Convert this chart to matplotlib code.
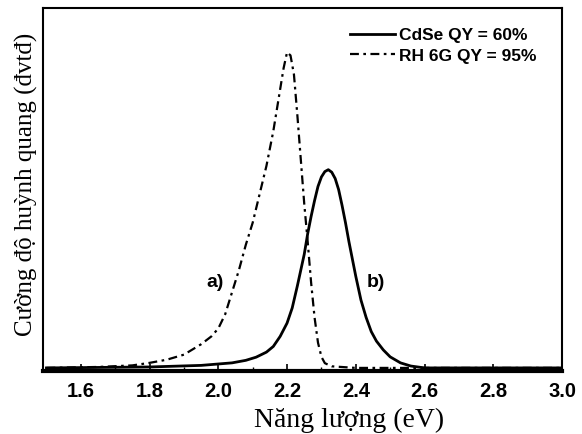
import matplotlib
matplotlib.use("Agg")
import matplotlib.pyplot as plt

# du lieu doc tu hinh (nang luong eV, cuong do chuan hoa)
rh_x = [1.50, 1.65, 1.75, 1.80, 1.85, 1.90, 1.95, 1.98, 2.00, 2.02, 2.04,
        2.06, 2.08, 2.10, 2.12, 2.14, 2.16, 2.175, 2.19, 2.20, 2.21, 2.22,
        2.23, 2.24, 2.25, 2.26, 2.27, 2.28, 2.29, 2.30, 2.31, 2.33, 2.40,
        2.60, 3.00]
rh_y = [0.0, 0.003, 0.008, 0.016, 0.026, 0.042, 0.075, 0.10, 0.125, 0.17,
        0.24, 0.31, 0.39, 0.46, 0.55, 0.64, 0.75, 0.85, 0.95, 1.0, 0.99, 0.93,
        0.80, 0.66, 0.52, 0.40, 0.27, 0.16, 0.08, 0.035, 0.015, 0.005, 0.0,
        0.0, 0.0]

cdse_x = [1.50, 1.80, 1.95, 2.04, 2.08, 2.11, 2.14, 2.16, 2.18, 2.20, 2.215,
          2.23, 2.24, 2.25, 2.26, 2.27, 2.28, 2.29, 2.30, 2.31, 2.32, 2.33,
          2.34, 2.35, 2.36, 2.37, 2.38, 2.39, 2.40, 2.415, 2.43, 2.445, 2.46,
          2.48, 2.50, 2.53, 2.56, 2.60, 3.00]
cdse_y = [0.0, 0.003, 0.008, 0.016, 0.024, 0.034, 0.05, 0.068, 0.10, 0.142,
          0.19, 0.26, 0.31, 0.36, 0.425, 0.48, 0.53, 0.575, 0.605, 0.622,
          0.628, 0.62, 0.60, 0.565, 0.515, 0.46, 0.40, 0.345, 0.29, 0.215,
          0.16, 0.115, 0.085, 0.057, 0.035, 0.016, 0.006, 0.0, 0.0]

labels = ["CdSe QY = 60%", "RH 6G QY = 95%"]
xticks = [1.6, 1.8, 2.0, 2.2, 2.4, 2.6, 2.8, 3.0]

plt.rcParams['font.family'] = ['Liberation Sans', 'DejaVu Sans']

fig = plt.figure(figsize=(5.82, 4.34), dpi=100)
ax = fig.add_axes([0.0739, 0.145, 0.8918, 0.8364])

ax.plot(cdse_x, cdse_y, color='black', lw=2.0, label=labels[0])
ax.plot(rh_x, rh_y, color='black', lw=1.6, ls=(0, (4, 2, 1.2, 2)), label=labels[1])

ax.set_xlim(1.49, 3.0)
ax.set_ylim(-0.01, 1.14)
ax.set_xticks(xticks)
ax.set_xticklabels(["%.1f" % t for t in xticks], fontsize=14.5, fontweight='bold')
ax.set_xticks([1.5, 1.7, 1.9, 2.1, 2.3, 2.5, 2.7, 2.9], minor=True)
ax.tick_params(axis='x', which='major', direction='in', length=5, width=1.2, pad=8)
ax.tick_params(axis='x', which='minor', direction='in', length=3, width=1.0)
ax.set_yticks([])

for s in ['left', 'right', 'top']:
    ax.spines[s].set_linewidth(1.5)
ax.spines['bottom'].set_linewidth(3)

ax.set_xlabel("Năng lượng (eV)", family='Liberation Serif', fontsize=20)
ax.xaxis.set_label_coords(0.59, -0.10)
ax.set_ylabel("Cường độ huỳnh quang (đvtđ)", family='Liberation Serif', fontsize=18)
ax.yaxis.set_label_coords(-0.01, 0.515)

ax.text(1.992, 0.27, "a)", fontsize=14, fontweight='bold', ha='center', va='center')
ax.text(2.457, 0.27, "b)", fontsize=14, fontweight='bold', ha='center', va='center')

leg = ax.legend(loc='upper left', bbox_to_anchor=(0.5915, 0.945), frameon=False,
                borderpad=0, borderaxespad=0, handlelength=2.6, handletextpad=0.2,
                labelspacing=0.3, prop={'size': 12.5, 'weight': 'bold'})

fig.savefig("out.png", dpi=100)
